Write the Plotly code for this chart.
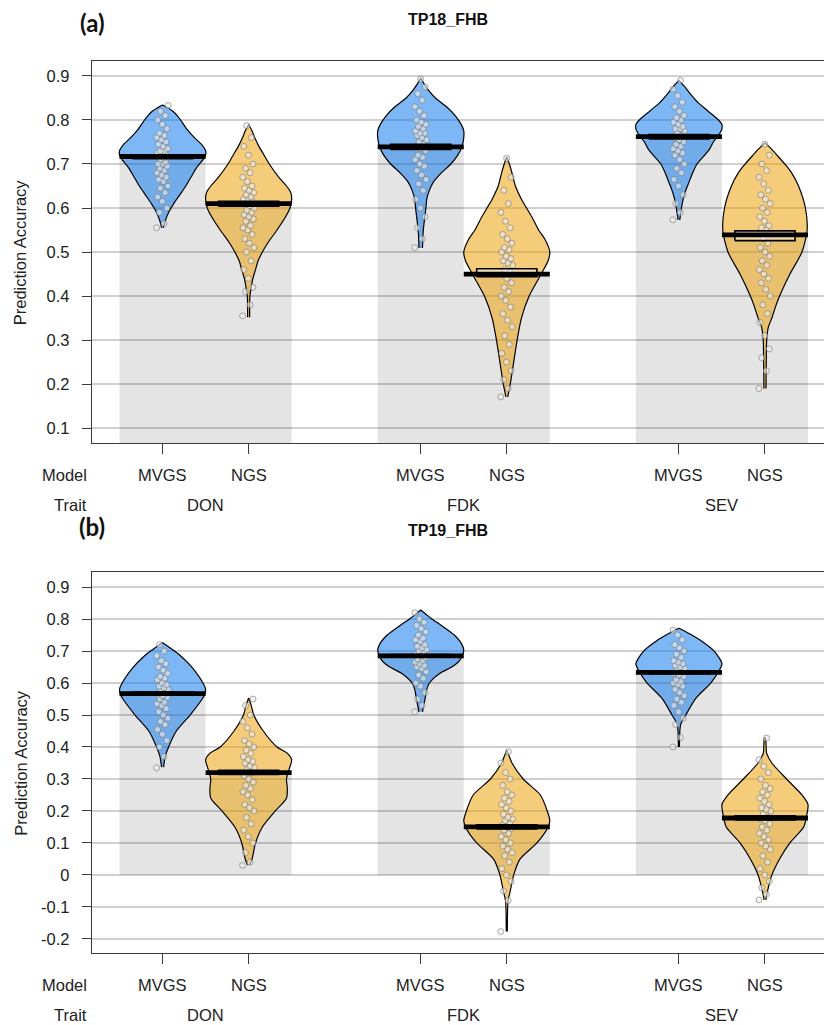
import plotly.graph_objects as go

# ---- categories -------------------------------------------------------------
TRAITS = ["DON", "FDK", "SEV"]
MODELS = ["MVGS", "NGS"]
PANEL_TITLES = ["TP18_FHB", "TP19_FHB"]
PANEL_TAGS = ["(a)", "(b)"]

# ---- TP18_FHB (order: DON-MVGS, DON-NGS, FDK-MVGS, FDK-NGS, SEV-MVGS, SEV-NGS)
tp18_means = [0.717, 0.610, 0.739, 0.450, 0.762, 0.539]
tp18_inf_low = [0.712, 0.604, 0.733, 0.444, 0.757, 0.526]
tp18_inf_high = [0.721, 0.615, 0.745, 0.462, 0.767, 0.548]

tp18_points = [
    [0.555, 0.565, 0.59, 0.60, 0.615, 0.625, 0.635, 0.645, 0.65, 0.66, 0.665, 0.67, 0.675, 0.68,
     0.685, 0.69, 0.695, 0.70, 0.70, 0.705, 0.71, 0.715, 0.715, 0.72, 0.72, 0.725, 0.725, 0.73,
     0.73, 0.735, 0.74, 0.745, 0.75, 0.755, 0.76, 0.765, 0.77, 0.78, 0.79, 0.80, 0.81, 0.82, 0.833],
    [0.355, 0.38, 0.41, 0.42, 0.44, 0.46, 0.48, 0.50, 0.51, 0.52, 0.53, 0.54, 0.55, 0.555, 0.56,
     0.57, 0.575, 0.58, 0.585, 0.59, 0.595, 0.60, 0.605, 0.61, 0.615, 0.62, 0.62, 0.625, 0.63,
     0.635, 0.64, 0.645, 0.65, 0.66, 0.67, 0.68, 0.69, 0.70, 0.72, 0.74, 0.76, 0.787],
    [0.51, 0.53, 0.555, 0.58, 0.60, 0.62, 0.64, 0.655, 0.665, 0.675, 0.685, 0.695, 0.70, 0.71,
     0.715, 0.72, 0.73, 0.735, 0.74, 0.745, 0.75, 0.755, 0.76, 0.765, 0.77, 0.77, 0.775, 0.78,
     0.785, 0.79, 0.795, 0.80, 0.81, 0.82, 0.83, 0.845, 0.86, 0.875, 0.893],
    [0.171, 0.19, 0.21, 0.23, 0.25, 0.27, 0.29, 0.31, 0.33, 0.345, 0.36, 0.375, 0.39, 0.40, 0.41,
     0.42, 0.43, 0.44, 0.45, 0.455, 0.46, 0.47, 0.475, 0.48, 0.485, 0.49, 0.50, 0.505, 0.51, 0.52,
     0.53, 0.54, 0.555, 0.57, 0.59, 0.61, 0.64, 0.67, 0.713],
    [0.573, 0.59, 0.61, 0.63, 0.65, 0.665, 0.68, 0.69, 0.70, 0.71, 0.72, 0.725, 0.73, 0.735, 0.74,
     0.745, 0.75, 0.755, 0.76, 0.765, 0.77, 0.775, 0.78, 0.78, 0.785, 0.79, 0.795, 0.80, 0.805,
     0.81, 0.82, 0.83, 0.84, 0.855, 0.87, 0.89],
    [0.19, 0.23, 0.26, 0.28, 0.31, 0.34, 0.36, 0.38, 0.40, 0.415, 0.43, 0.44, 0.45, 0.46, 0.47,
     0.48, 0.49, 0.50, 0.51, 0.52, 0.53, 0.54, 0.55, 0.555, 0.56, 0.57, 0.58, 0.59, 0.60, 0.61,
     0.62, 0.63, 0.64, 0.655, 0.67, 0.685, 0.70, 0.72, 0.745],
]

# bean outlines: accuracy level and half-width of the density at that level
tp18_outline_y = [
    [0.555, 0.57, 0.59, 0.61, 0.63, 0.65, 0.67, 0.69, 0.70, 0.71, 0.72, 0.73, 0.745, 0.76, 0.78,
     0.80, 0.81, 0.82, 0.828, 0.834],
    [0.352, 0.40, 0.42, 0.44, 0.46, 0.48, 0.50, 0.52, 0.55, 0.58, 0.60, 0.62, 0.635, 0.65, 0.67,
     0.70, 0.72, 0.74, 0.76, 0.775, 0.789],
    [0.509, 0.55, 0.60, 0.62, 0.64, 0.66, 0.68, 0.70, 0.72, 0.74, 0.76, 0.775, 0.79, 0.81, 0.83,
     0.85, 0.87, 0.885, 0.895],
    [0.171, 0.20, 0.25, 0.30, 0.35, 0.40, 0.45, 0.48, 0.50, 0.53, 0.55, 0.58, 0.60, 0.62, 0.65,
     0.68, 0.70, 0.716],
    [0.573, 0.60, 0.62, 0.64, 0.66, 0.68, 0.70, 0.72, 0.735, 0.75, 0.765, 0.78, 0.79, 0.80, 0.82,
     0.84, 0.86, 0.875, 0.89],
    [0.19, 0.25, 0.30, 0.33, 0.35, 0.38, 0.40, 0.45, 0.50, 0.55, 0.60, 0.65, 0.68, 0.70, 0.72,
     0.735, 0.748],
]
tp18_outline_w = [
    [0.01, 0.03, 0.07, 0.13, 0.20, 0.27, 0.33, 0.39, 0.43, 0.47, 0.50, 0.50, 0.45, 0.37, 0.28,
     0.21, 0.17, 0.12, 0.06, 0.0],
    [0.012, 0.015, 0.03, 0.05, 0.08, 0.11, 0.16, 0.22, 0.33, 0.43, 0.48, 0.50, 0.49, 0.44, 0.35,
     0.24, 0.18, 0.12, 0.07, 0.04, 0.0],
    [0.02, 0.03, 0.06, 0.07, 0.10, 0.15, 0.24, 0.35, 0.43, 0.48, 0.50, 0.50, 0.47, 0.40, 0.30,
     0.17, 0.08, 0.03, 0.0],
    [0.01, 0.04, 0.08, 0.12, 0.17, 0.26, 0.40, 0.48, 0.50, 0.44, 0.37, 0.29, 0.23, 0.17, 0.10,
     0.06, 0.03, 0.0],
    [0.01, 0.03, 0.05, 0.08, 0.12, 0.16, 0.21, 0.30, 0.36, 0.40, 0.46, 0.50, 0.50, 0.46, 0.34,
     0.22, 0.13, 0.07, 0.0],
    [0.012, 0.015, 0.02, 0.04, 0.08, 0.13, 0.17, 0.29, 0.43, 0.49, 0.47, 0.39, 0.31, 0.23, 0.14,
     0.07, 0.0],
]

# ---- TP19_FHB -----------------------------------------------------------------
tp19_means = [0.567, 0.320, 0.685, 0.150, 0.633, 0.178]
tp19_inf_low = [0.562, 0.314, 0.681, 0.144, 0.629, 0.172]
tp19_inf_high = [0.572, 0.327, 0.689, 0.157, 0.637, 0.185]

tp19_points = [
    [0.335, 0.37, 0.40, 0.42, 0.44, 0.455, 0.47, 0.48, 0.49, 0.50, 0.51, 0.52, 0.53, 0.535, 0.54,
     0.55, 0.555, 0.56, 0.565, 0.57, 0.575, 0.58, 0.585, 0.59, 0.595, 0.60, 0.61, 0.615, 0.62,
     0.63, 0.64, 0.65, 0.66, 0.67, 0.685, 0.70, 0.72],
    [0.03, 0.04, 0.07, 0.10, 0.12, 0.14, 0.16, 0.18, 0.20, 0.21, 0.22, 0.235, 0.25, 0.26, 0.27,
     0.28, 0.29, 0.30, 0.31, 0.32, 0.33, 0.335, 0.34, 0.35, 0.355, 0.36, 0.37, 0.38, 0.39, 0.40,
     0.41, 0.42, 0.44, 0.46, 0.48, 0.50, 0.53, 0.55],
    [0.51, 0.53, 0.55, 0.57, 0.59, 0.60, 0.615, 0.625, 0.635, 0.645, 0.65, 0.655, 0.66, 0.665,
     0.67, 0.675, 0.68, 0.685, 0.69, 0.695, 0.70, 0.705, 0.71, 0.715, 0.72, 0.73, 0.735, 0.74,
     0.75, 0.76, 0.77, 0.78, 0.79, 0.80, 0.82],
    [-0.177, -0.08, -0.05, -0.02, 0.0, 0.02, 0.04, 0.06, 0.07, 0.08, 0.09, 0.10, 0.11, 0.12, 0.13,
     0.14, 0.145, 0.15, 0.155, 0.16, 0.17, 0.175, 0.18, 0.19, 0.20, 0.21, 0.22, 0.23, 0.24, 0.25,
     0.26, 0.28, 0.30, 0.32, 0.35, 0.385],
    [0.40, 0.43, 0.47, 0.49, 0.51, 0.53, 0.54, 0.55, 0.56, 0.57, 0.58, 0.59, 0.595, 0.60, 0.605,
     0.61, 0.62, 0.625, 0.63, 0.635, 0.64, 0.645, 0.65, 0.655, 0.66, 0.665, 0.67, 0.68, 0.69,
     0.70, 0.71, 0.72, 0.735, 0.75, 0.765],
    [-0.078, -0.06, -0.04, -0.02, 0.0, 0.02, 0.04, 0.06, 0.08, 0.09, 0.10, 0.11, 0.12, 0.13, 0.14,
     0.15, 0.16, 0.17, 0.175, 0.18, 0.19, 0.20, 0.205, 0.21, 0.22, 0.23, 0.24, 0.25, 0.26, 0.27,
     0.28, 0.30, 0.32, 0.34, 0.36, 0.428],
]

tp19_outline_y = [
    [0.337, 0.37, 0.40, 0.45, 0.50, 0.55, 0.565, 0.58, 0.60, 0.65, 0.68, 0.70, 0.715, 0.726],
    [0.031, 0.05, 0.10, 0.15, 0.20, 0.24, 0.27, 0.30, 0.33, 0.36, 0.38, 0.40, 0.45, 0.50, 0.53,
     0.553],
    [0.51, 0.55, 0.58, 0.60, 0.63, 0.65, 0.67, 0.70, 0.72, 0.75, 0.78, 0.80, 0.815, 0.828],
    [-0.177, -0.08, -0.05, 0.0, 0.05, 0.10, 0.15, 0.17, 0.20, 0.25, 0.30, 0.35, 0.37, 0.39],
    [0.40, 0.47, 0.50, 0.55, 0.60, 0.635, 0.66, 0.70, 0.73, 0.75, 0.762, 0.771],
    [-0.078, -0.05, 0.0, 0.05, 0.10, 0.15, 0.18, 0.22, 0.25, 0.30, 0.35, 0.38, 0.428],
]
tp19_outline_w = [
    [0.012, 0.03, 0.07, 0.16, 0.32, 0.46, 0.49, 0.50, 0.47, 0.34, 0.23, 0.14, 0.06, 0.0],
    [0.01, 0.04, 0.08, 0.16, 0.31, 0.44, 0.45, 0.44, 0.47, 0.50, 0.45, 0.33, 0.17, 0.06, 0.03,
     0.0],
    [0.02, 0.05, 0.07, 0.10, 0.22, 0.36, 0.45, 0.50, 0.48, 0.39, 0.24, 0.13, 0.06, 0.0],
    [0.006, 0.015, 0.04, 0.08, 0.155, 0.35, 0.48, 0.50, 0.47, 0.39, 0.19, 0.06, 0.03, 0.0],
    [0.006, 0.02, 0.08, 0.19, 0.37, 0.46, 0.50, 0.41, 0.27, 0.15, 0.07, 0.0],
    [0.01, 0.03, 0.08, 0.17, 0.29, 0.45, 0.48, 0.50, 0.43, 0.25, 0.08, 0.02, 0.006],
]

# ---- styling ------------------------------------------------------------------
FONT = "Liberation Sans, Arial, sans-serif"
TEXT = "#222222"
BEAN_FILL = {"MVGS": "rgba(20,124,237,0.55)", "NGS": "rgba(237,164,12,0.55)"}
BAR_FILL = "rgba(0,0,0,0.105)"
GRID = "#CFCFCF"
AXIS = "#3A3A3A"

panels = [
    dict(means=tp18_means, lo=tp18_inf_low, hi=tp18_inf_high, pts=tp18_points,
         oy=tp18_outline_y, ow=tp18_outline_w, yrange=[0.066, 0.934],
         ticks=[0.1, 0.2, 0.3, 0.4, 0.5, 0.6, 0.7, 0.8, 0.9]),
    dict(means=tp19_means, lo=tp19_inf_low, hi=tp19_inf_high, pts=tp19_points,
         oy=tp19_outline_y, ow=tp19_outline_w, yrange=[-0.244, 0.947],
         ticks=[-0.2, -0.1, 0, 0.1, 0.2, 0.3, 0.4, 0.5, 0.6, 0.7, 0.8, 0.9]),
]

groups = [(t, m) for t in TRAITS for m in MODELS]
positions = [ti * 3 + mi + 1 for ti in range(len(TRAITS)) for mi in range(len(MODELS))]
XRANGE = [0.18, 8.686]

fig = go.Figure()

for p_i, pan in enumerate(panels):
    sfx = "" if p_i == 0 else "2"
    xa, ya = "x" + sfx, "y" + sfx

    # bars up to the group mean
    fig.add_trace(go.Bar(x=positions, y=pan["means"], width=1.0, marker_color=BAR_FILL,
                         marker_line_width=0, xaxis=xa, yaxis=ya, showlegend=False,
                         hoverinfo="skip"))

    for g_i, ((trait, model), pos) in enumerate(zip(groups, positions)):
        oy, ow = pan["oy"][g_i], pan["ow"][g_i]
        bx = [pos + w for w in ow] + [pos - w for w in reversed(ow)]
        by = list(oy) + list(reversed(oy))
        fig.add_trace(go.Scatter(x=bx, y=by, mode="lines", fill="toself",
                                 fillcolor=BEAN_FILL[model],
                                 line=dict(color="black", width=1.2, shape="spline",
                                           smoothing=0.7),
                                 xaxis=xa, yaxis=ya, showlegend=False, hoverinfo="skip"))

        vals = pan["pts"][g_i]
        jitter = [((k * 0.618034) % 1.0 - 0.5) * 0.14 for k in range(len(vals))]
        fig.add_trace(go.Scatter(x=[pos + j for j in jitter], y=vals, mode="markers",
                                 marker=dict(size=6, color="rgba(236,236,236,0.6)",
                                             line=dict(color="rgba(115,115,115,0.75)",
                                                       width=0.8)),
                                 xaxis=xa, yaxis=ya, showlegend=False, hoverinfo="skip"))

        # inference band
        lo, hi = pan["lo"][g_i], pan["hi"][g_i]
        fig.add_trace(go.Scatter(x=[pos - 0.35, pos + 0.35, pos + 0.35, pos - 0.35, pos - 0.35],
                                 y=[lo, lo, hi, hi, lo], mode="lines", fill="toself",
                                 fillcolor="rgba(255,255,255,0.45)",
                                 line=dict(color="black", width=1.6),
                                 xaxis=xa, yaxis=ya, showlegend=False, hoverinfo="skip"))

        # mean line
        m = pan["means"][g_i]
        fig.add_trace(go.Scatter(x=[pos - 0.5, pos + 0.5], y=[m, m], mode="lines",
                                 line=dict(color="black", width=4.8),
                                 xaxis=xa, yaxis=ya, showlegend=False, hoverinfo="skip"))

    tick_text = ["0" if abs(t) < 1e-9 else f"{t:g}" for t in pan["ticks"]]
    yax = dict(range=pan["yrange"], tickvals=pan["ticks"], ticktext=tick_text,
               showgrid=True, gridcolor=GRID, gridwidth=1.5, zeroline=False,
               showline=True, linecolor=AXIS, linewidth=1.3, mirror=False,
               ticks="outside", ticklen=9, tickwidth=1.1, tickcolor=AXIS,
               ticklabelstandoff=9,
               tickfont=dict(family=FONT, size=16.5, color=TEXT))
    xax = dict(range=XRANGE, tickvals=positions, showticklabels=False,
               showgrid=False, zeroline=False, showline=True, linecolor=AXIS,
               linewidth=1.3, mirror=True, ticks="outside", ticklen=10,
               tickwidth=1.1, tickcolor=AXIS, anchor=ya)
    if p_i == 0:
        yax["domain"] = [0.5717, 1.0]
        fig.update_layout(yaxis=yax, xaxis=xax)
    else:
        yax["domain"] = [0.0, 0.4271]
        fig.update_layout(yaxis2=yax, xaxis2=xax)

    ydom = ya + " domain"
    # model / trait labels under the axis
    for (trait, model), pos in zip(groups, positions):
        fig.add_annotation(x=pos, xref=xa, y=0, yref=ydom, yshift=-32, text=model,
                           showarrow=False, yanchor="middle",
                           font=dict(family=FONT, size=16.5, color=TEXT))
    for t_i, trait in enumerate(TRAITS):
        fig.add_annotation(x=t_i * 3 + 1.5, xref=xa, y=0, yref=ydom, yshift=-62, text=trait,
                           showarrow=False, yanchor="middle",
                           font=dict(family=FONT, size=16.5, color=TEXT))
    for label, shift in (("Model", -32), ("Trait", -62)):
        fig.add_annotation(x=0, xref="paper", y=0, yref=ydom, yshift=shift, xshift=-3,
                           text=label, showarrow=False, xanchor="right", yanchor="middle",
                           font=dict(family=FONT, size=16.5, color=TEXT))

    # axis title
    fig.add_annotation(x=-0.098, xref="paper", y=0.5, yref=ydom, text="Prediction Accuracy",
                       textangle=-90, showarrow=False, xanchor="center", yanchor="middle",
                       font=dict(family=FONT, size=16.5, color=TEXT))

    # panel title and tag
    fig.add_annotation(x=4.32, xref=xa, y=1, yref=ydom, yshift=42,
                       text="<b>" + PANEL_TITLES[p_i] + "</b>",
                       showarrow=False, yanchor="middle",
                       font=dict(family=FONT, size=16, color="#111111"))
    fig.add_annotation(x=0, xref="paper", y=1, yref=ydom, yshift=39 if p_i == 0 else 46,
                       text="<b>" + PANEL_TAGS[p_i] + "</b>", showarrow=False,
                       xanchor="center", yanchor="middle",
                       font=dict(family="Lato, Open Sans, sans-serif", size=24, color="#111111"))

fig.update_layout(width=824, height=1025, margin=dict(l=92, r=0, t=61, b=72),
                  paper_bgcolor="white", plot_bgcolor="white", barmode="overlay",
                  showlegend=False)

fig.write_html("out.html")
